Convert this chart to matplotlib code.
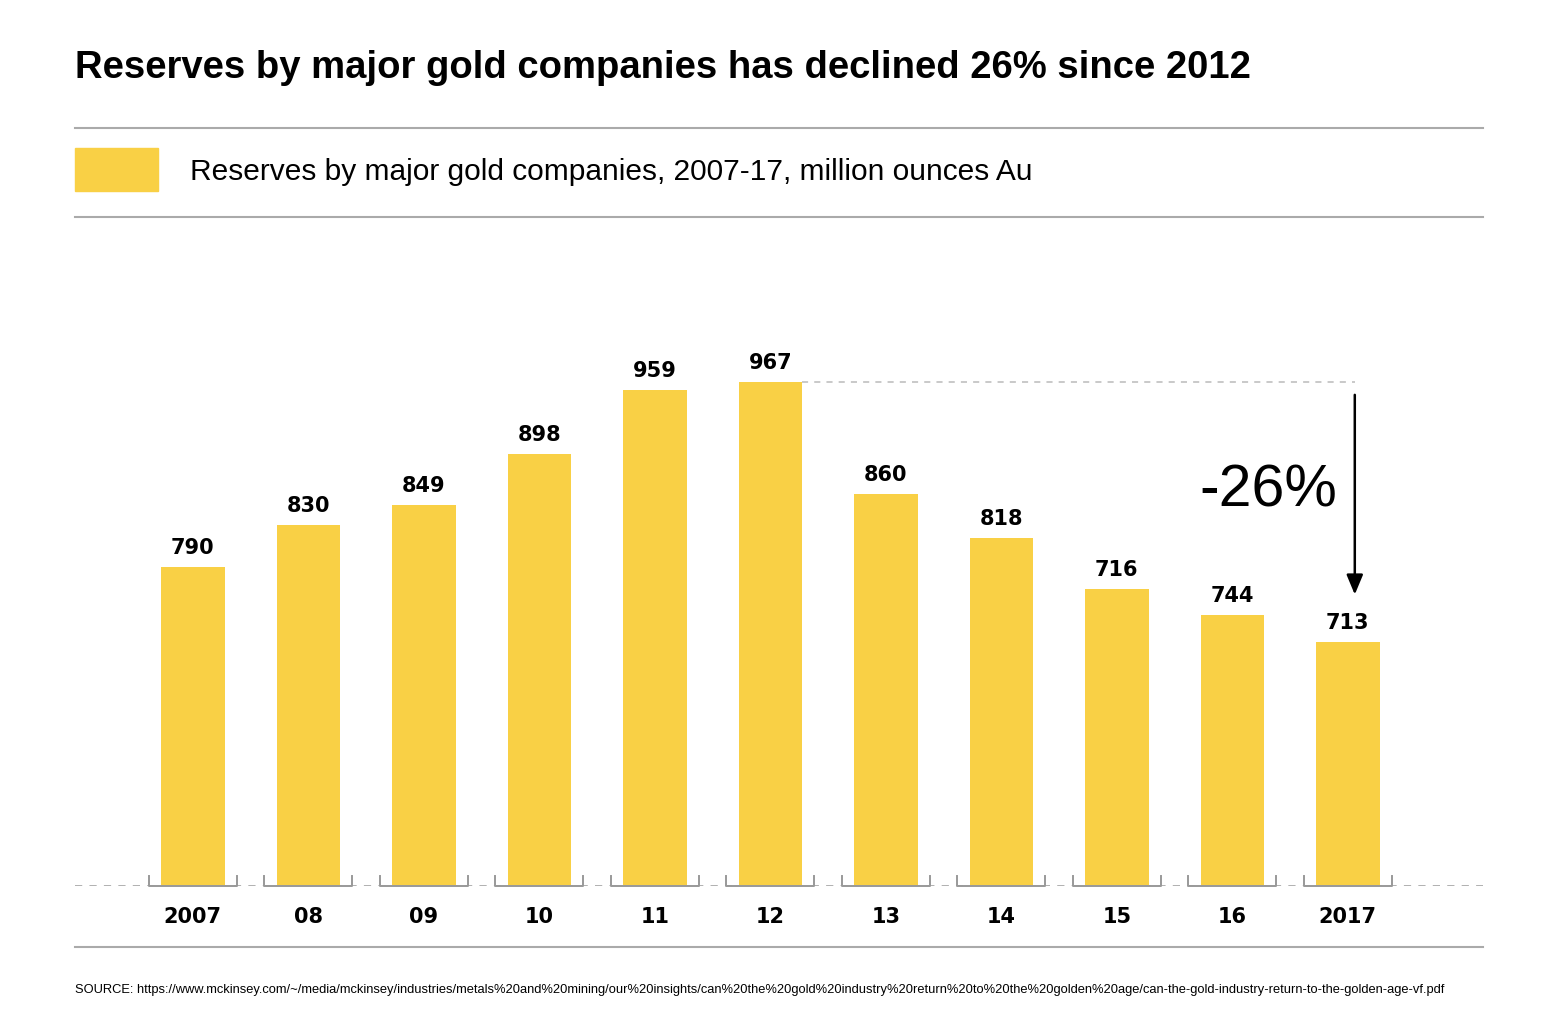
import matplotlib
matplotlib.use("Agg")
import matplotlib.pyplot as plt

plt.rcParams['font.family'] = ['Liberation Sans', 'DejaVu Sans']

# data
years = ['2007', '08', '09', '10', '11', '12', '13', '14', '15', '16', '2017']
reserves = [790, 830, 849, 898, 959, 967, 860, 818, 716, 744, 713]
# bar heights as drawn in the source (the 2015 bar is drawn taller than its label)
drawn = [790, 830, 849, 898, 959, 967, 860, 818, 769, 744, 718]
legend_text = 'Reserves by major gold companies, 2007-17, million ounces Au'
title = 'Reserves by major gold companies has declined 26% since 2012'
source = ('SOURCE: https://www.mckinsey.com/~/media/mckinsey/industries/metals%20and%20mining/'
          'our%20insights/can%20the%20gold%20industry%20return%20to%20the%20golden%20age/'
          'can-the-gold-industry-return-to-the-golden-age-vf.pdf')

gold = '#F9D045'
grey = '#AAAAAA'
num_font = 'DejaVu Sans'

fig = plt.figure(figsize=(15.52, 10.29), dpi=100)
ax = fig.add_axes([0.04832, 0.1390, 0.90722, 0.6180])

x = list(range(len(years)))
ax.bar(x, [d - 484.8 for d in drawn], bottom=484.8, width=0.55, color=gold, zorder=2)
ax.set_xlim(-1.02, 11.17)
ax.set_ylim(484.8, 1093.3)
ax.axis('off')

# dashed baseline
ax.plot([-1.02, 11.17], [484.8, 484.8], ls=(0, (4, 4)), color=grey, lw=1.3, zorder=1)

# brackets under each bar
for i in x:
    ax.plot([i - 0.38, i - 0.38, i + 0.38, i + 0.38], [494.5, 484.8, 484.8, 494.5],
            color='#999999', lw=1.4, zorder=3, clip_on=False)

for i, (d, r) in enumerate(zip(drawn, reserves)):
    ax.annotate(str(r), (i, d), xytext=(0, 6.5), textcoords='offset points',
                ha='center', va='bottom', fontsize=15, fontweight='bold', family=num_font)
    ax.annotate(years[i], (i, 484.8), xytext=(0, -15), textcoords='offset points',
                ha='center', va='top', fontsize=15, fontweight='bold', family=num_font)

# decline annotation
ax.plot([5.275, 10.06], [967, 967], ls=(0, (4, 4)), color='#BBBBBB', lw=1.1)
ax.annotate('', xy=(10.06, 761), xytext=(10.06, 957.4),
            arrowprops=dict(arrowstyle='-|>,head_width=0.5,head_length=1.2',
                            color='black', lw=1.8))
ax.text(9.905, 863, '-26%', ha='right', va='center', fontsize=42.5)

# header
fig.text(75 / 1552, 1 - 68 / 1029, title, fontsize=27.5, fontweight='bold', va='center', ha='left')
for yp in (128, 217, 947):
    fig.add_artist(plt.Line2D([75 / 1552, 1483 / 1552], [1 - yp / 1029] * 2,
                              color=grey, lw=1.5))
fig.add_artist(plt.Rectangle((75 / 1552, 1 - 191 / 1029), 83 / 1552, 43 / 1029,
                             color=gold, transform=fig.transFigure))
fig.text(190 / 1552, 1 - 172 / 1029, legend_text, fontsize=21.5, va='center', ha='left')
fig.text(75 / 1552, 1 - 990 / 1029, source, fontsize=9.3, va='center', ha='left')

fig.savefig('out.png', dpi=100)
